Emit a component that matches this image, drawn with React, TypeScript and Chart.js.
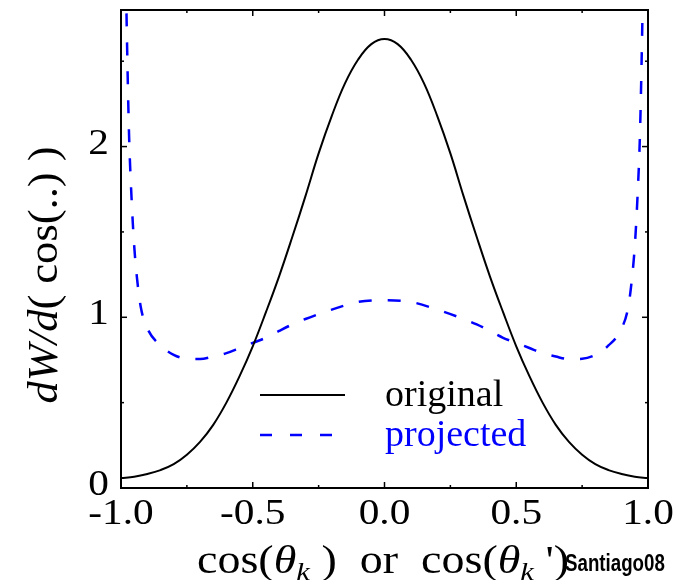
import React, { useEffect, useRef } from "react";
import { Chart, registerables } from "chart.js";

Chart.register(...registerables);

// cos(theta) sampling for the "original" curve
const cosTheta = [
  -1.0, -0.95, -0.9, -0.85, -0.8, -0.75, -0.7, -0.65, -0.6, -0.55, -0.5,
  -0.45, -0.4, -0.35, -0.3, -0.25, -0.2, -0.15, -0.1, -0.05, 0.0,
  0.05, 0.1, 0.15, 0.2, 0.25, 0.3, 0.35, 0.4, 0.45, 0.5,
  0.55, 0.6, 0.65, 0.7, 0.75, 0.8, 0.85, 0.9, 0.95, 1.0,
];
const originalValues = [
  0.058, 0.066, 0.082, 0.105, 0.14, 0.195, 0.27, 0.37, 0.5, 0.655, 0.83,
  1.03, 1.24, 1.47, 1.71, 1.96, 2.18, 2.37, 2.51, 2.6, 2.63,
  2.6, 2.51, 2.37, 2.18, 1.96, 1.71, 1.47, 1.24, 1.03, 0.83,
  0.655, 0.5, 0.37, 0.27, 0.195, 0.14, 0.105, 0.082, 0.066, 0.058,
];

// cos(theta') sampling for the "projected" curve
const projectedCos = [
  -0.99, -0.98, -0.97, -0.96, -0.95, -0.94, -0.925, -0.9, -0.85, -0.8,
  -0.75, -0.7, -0.65, -0.6, -0.55, -0.5, -0.45, -0.4, -0.35, -0.3,
  -0.2, -0.1, 0.0, 0.1, 0.2,
  0.3, 0.35, 0.4, 0.45, 0.5, 0.55, 0.6, 0.65, 0.7, 0.75,
  0.8, 0.85, 0.9, 0.925, 0.94, 0.95, 0.96, 0.97, 0.98, 0.99,
];
const projectedValues = [
  3.8, 2.85, 2.1, 1.7, 1.42, 1.24, 1.06, 0.935, 0.835, 0.78,
  0.757, 0.755, 0.77, 0.79, 0.82, 0.85, 0.88, 0.92, 0.958, 0.99,
  1.045, 1.09, 1.1, 1.09, 1.045,
  0.99, 0.958, 0.92, 0.88, 0.85, 0.82, 0.79, 0.77, 0.755, 0.757,
  0.78, 0.835, 0.935, 1.06, 1.24, 1.42, 1.7, 2.1, 2.85, 3.8,
];

const xTicks = [-1, -0.5, 0, 0.5, 1];
const xTickLabels = ["-1.0", "-0.5", "0.0", "0.5", "1.0"];
const xMinorTicks = [-0.75, -0.25, 0.25, 0.75];
const yTicks = [0, 1, 2];
const yTickLabels = ["0", "1", "2"];
const yMinorTicks = [0.5, 1.5, 2.5];

const legendLabels = ["original", "projected"];

const SERIF = '"Liberation Serif", "Times New Roman", serif';
const STRETCH = 1.18;

type Piece = { t: string; f: string; dy?: number };

function measurePieces(ctx: CanvasRenderingContext2D, pieces: Piece[]) {
  let w = 0;
  for (const p of pieces) {
    ctx.font = p.f;
    w += ctx.measureText(p.t).width;
  }
  return w;
}

function drawPieces(ctx: CanvasRenderingContext2D, pieces: Piece[], x: number, y: number) {
  let cx = x;
  for (const p of pieces) {
    ctx.font = p.f;
    ctx.fillText(p.t, cx, y + (p.dy || 0));
    cx += ctx.measureText(p.t).width;
  }
}

function stretchedText(
  ctx: CanvasRenderingContext2D,
  text: string,
  x: number,
  y: number,
  align: "left" | "center" | "right",
  sx: number
) {
  ctx.save();
  ctx.translate(x, y);
  ctx.scale(sx, 1);
  ctx.textAlign = align;
  ctx.fillText(text, 0, 0);
  ctx.restore();
}

export default function App() {
  const ref = useRef<HTMLCanvasElement>(null);

  useEffect(() => {
    document.body.style.margin = "0";
    const canvas = ref.current!;
    const decor = {
      id: "decor",
      afterDatasetsDraw(chart: any) {
        const ctx: CanvasRenderingContext2D = chart.ctx;
        const { left, right, top, bottom } = chart.chartArea;
        const xs = chart.scales.x;
        const ys = chart.scales.y;
        ctx.save();
        ctx.strokeStyle = "#000";
        ctx.lineWidth = 2;
        ctx.setLineDash([]);
        ctx.strokeRect(left, top, right - left, bottom - top);

        // inward ticks on all four sides
        ctx.lineWidth = 1.5;
        const seg = (x1: number, y1: number, x2: number, y2: number) => {
          ctx.beginPath();
          ctx.moveTo(x1, y1);
          ctx.lineTo(x2, y2);
          ctx.stroke();
        };
        const major = 6;
        const minor = 3;
        for (const v of xTicks) {
          const px = xs.getPixelForValue(v);
          seg(px, bottom, px, bottom - major);
          seg(px, top, px, top + major);
        }
        for (const v of xMinorTicks) {
          const px = xs.getPixelForValue(v);
          seg(px, bottom, px, bottom - minor);
          seg(px, top, px, top + minor);
        }
        for (const v of yTicks) {
          const py = ys.getPixelForValue(v);
          seg(left, py, left + major, py);
          seg(right, py, right - major, py);
        }
        for (const v of yMinorTicks) {
          const py = ys.getPixelForValue(v);
          seg(left, py, left + minor, py);
          seg(right, py, right - minor, py);
        }

        // tick labels
        ctx.fillStyle = "#000";
        ctx.textBaseline = "alphabetic";
        ctx.font = `35px ${SERIF}`;
        xTicks.forEach((v, i) => {
          stretchedText(ctx, xTickLabels[i], xs.getPixelForValue(v), bottom + 36, "center", STRETCH);
        });
        yTicks.forEach((v, i) => {
          stretchedText(ctx, yTickLabels[i], left - 12, ys.getPixelForValue(v) + 7, "right", STRETCH);
        });

        // legend
        ctx.lineWidth = 2;
        ctx.strokeStyle = "#000";
        seg(260, 395, 345, 395);
        ctx.strokeStyle = "#0000ff";
        ctx.lineWidth = 2.5;
        ctx.setLineDash([12, 18]);
        seg(260, 435, 334, 435);
        ctx.setLineDash([]);
        ctx.textAlign = "left";
        ctx.font = `38px ${SERIF}`;
        ctx.fillStyle = "#000";
        ctx.fillText(legendLabels[0], 385, 406);
        ctx.fillStyle = "#0000ff";
        ctx.fillText(legendLabels[1], 385, 446);

        // x title
        ctx.fillStyle = "#000";
        const reg = `39px ${SERIF}`;
        const ital = `italic 39px ${SERIF}`;
        const sub = `italic 26px ${SERIF}`;
        const xTitle: Piece[] = [
          { t: "cos(", f: reg },
          { t: "θ", f: ital },
          { t: "k", f: sub, dy: 7 },
          { t: " )  or  cos(", f: reg },
          { t: "θ", f: ital },
          { t: "k", f: sub, dy: 7 },
          { t: " ')", f: reg },
        ];
        ctx.save();
        ctx.translate(197, 573);
        ctx.scale(STRETCH, 1);
        ctx.textAlign = "left";
        drawPieces(ctx, xTitle, 0, 0);
        ctx.restore();

        // y title
        const yreg = `42px ${SERIF}`;
        const yital = `italic 42px ${SERIF}`;
        const yTitle: Piece[] = [
          { t: "dW/d", f: yital },
          { t: "( cos(..) )", f: yreg },
        ];
        const w = measurePieces(ctx, yTitle);
        ctx.save();
        ctx.translate(57, 275);
        ctx.rotate(-Math.PI / 2);
        ctx.scale(1.06, 1);
        ctx.textAlign = "left";
        drawPieces(ctx, yTitle, -w / 2, 0);
        ctx.restore();

        // watermark
        ctx.save();
        ctx.translate(565, 571);
        ctx.scale(0.78, 1);
        ctx.textAlign = "left";
        ctx.font = `bold 24px "Liberation Sans", Arial, sans-serif`;
        ctx.fillStyle = "#000";
        ctx.fillText("Santiago08", 0, 0);
        ctx.restore();

        ctx.restore();
      },
    };

    const chart = new Chart(canvas, {
      type: "line",
      data: {
        datasets: [
          {
            label: legendLabels[0],
            data: cosTheta.map((x, i) => ({ x, y: originalValues[i] })),
            borderColor: "#000000",
            borderWidth: 2,
            pointRadius: 0,
            fill: false,
            tension: 0.4,
          },
          {
            label: legendLabels[1],
            data: projectedCos.map((x, i) => ({ x, y: projectedValues[i] })),
            borderColor: "#0000ff",
            borderWidth: 2.5,
            borderDash: [13, 16],
            pointRadius: 0,
            fill: false,
            cubicInterpolationMode: "monotone",
          },
        ],
      },
      options: {
        animation: false,
        responsive: false,
        events: [],
        layout: { padding: { top: 10, right: 31, left: 0, bottom: 0 } },
        plugins: { legend: { display: false }, tooltip: { enabled: false } },
        scales: {
          x: {
            type: "linear",
            min: -1,
            max: 1,
            afterBuildTicks: (s: any) => {
              s.ticks = xTicks.map((v) => ({ value: v }));
            },
            afterFit: (s: any) => {
              s.height = 92;
              s.paddingLeft = 0;
              s.paddingRight = 0;
            },
            ticks: { display: false },
            grid: { display: false, drawTicks: false },
            border: { display: false },
          },
          y: {
            type: "linear",
            min: 0,
            max: 2.8,
            afterBuildTicks: (s: any) => {
              s.ticks = yTicks.map((v) => ({ value: v }));
            },
            afterFit: (s: any) => {
              s.width = 121;
              s.paddingTop = 0;
              s.paddingBottom = 0;
            },
            ticks: { display: false },
            grid: { display: false, drawTicks: false },
            border: { display: false },
          },
        },
      },
      plugins: [decor],
    } as any);

    return () => chart.destroy();
  }, []);

  return <canvas ref={ref} width={679} height={580} style={{ display: "block" }} />;
}
